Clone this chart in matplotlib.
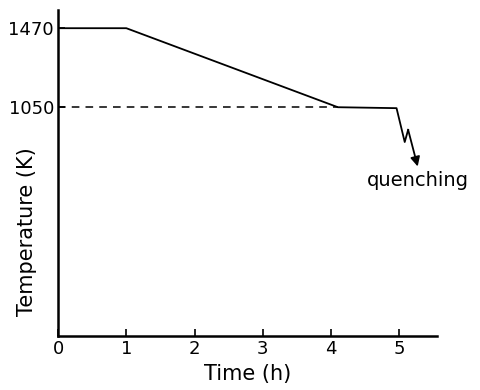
import numpy as np
from matplotlib import pyplot as plt

# heat treatment schedule
time_h = [0, 1.0, 4.1, 4.96, 5.08, 5.13]
temp_k = [1470, 1470, 1050, 1045, 865, 930]
arrow_tip = (5.27, 735)
dash_t = [0, 4.1]
dash_T = [1050, 1050]
xticks = [0, 1, 2, 3, 4, 5]
yticks = [1050, 1470]

plt.rcParams['font.family'] = ['DejaVu Sans']
fig = plt.figure(figsize=(4.8, 3.9), dpi=100)
axe = fig.add_axes([0.121, 0.138, 0.789, 0.836])

axe.plot(time_h, temp_k, color='black', lw=1.3)
axe.annotate('', xy=arrow_tip, xytext=(time_h[-1], temp_k[-1]),
             arrowprops=dict(arrowstyle='-|>', color='black', lw=1.3,
                             mutation_scale=14, shrinkA=0, shrinkB=0))
axe.plot(dash_t, dash_T, color='black', lw=1.1, ls=(0, (5, 4)))
axe.text(4.53, 662, 'quenching', fontsize=14, va='center', ha='left')

axe.set_xlim(0, 5.55)
axe.set_ylim(-167, 1566)
axe.set_xticks(xticks)
axe.set_yticks(yticks)
axe.tick_params(direction='in', length=5, width=1.2, labelsize=13, pad=3)
for s in ['top', 'right']:
    axe.spines[s].set_visible(False)
for s in ['left', 'bottom']:
    axe.spines[s].set_linewidth(1.8)
axe.set_xlabel('Time (h)', fontsize=15)
axe.set_ylabel('Temperature (K)', fontsize=15)
axe.xaxis.set_label_coords(0.5, -0.085)
axe.yaxis.set_label_coords(-0.055, 0.32)

fig.savefig('out.png', dpi=100)
